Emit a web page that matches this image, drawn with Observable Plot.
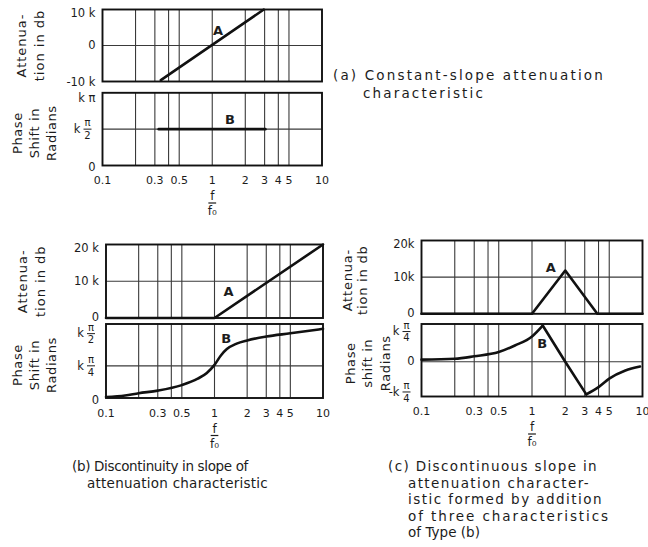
<!DOCTYPE html>
<html><head><meta charset="utf-8">
<script src="https://cdn.jsdelivr.net/npm/d3@7"></script>
<script src="https://cdn.jsdelivr.net/npm/@observablehq/plot@0.6"></script>
<style>
body{margin:0;background:#fff;}
#root{position:relative;width:648px;height:547px;overflow:hidden;font-family:"DejaVu Sans",sans-serif;color:#1c1c1c;background:#fff;}
.p{position:absolute;}
.p svg{background:transparent !important;overflow:visible !important;}
.cap{position:absolute;font-size:13.5px;line-height:16px;white-space:pre;}
</style></head><body><div id="root"></div>
<script>
// ---------- data ----------
const gridX = [0.2, 0.3, 0.4, 0.5, 1, 2, 3, 4, 5];
const xTickValues = [0.1, 0.3, 0.5, 1, 2, 3, 4, 5, 10];
const xTickLabels = ["0.1", "0.3", "0.5", "1", "2", "3", "4", "5", "10"];

// (a) constant slope
const aAttenF = [0.34, 2.95];
const aAttenK = [-9.6, 10];            // attenuation, units of k db
const aAttenTicks = [-10, 0, 10];
const aAttenTickLabels = ["-10 k", "0", "10 k"];
const aPhaseF = [0.325, 3.05];
const aPhase = [1, 1];                 // units of k·π/2
const aPhaseTicks = [0, 1, 2];
const aPhaseTickLabels = ["0", "k π/2", "k π"];

// (b) discontinuity in slope
const bAttenF = [0.1, 1, 10];
const bAttenK = [0, 0, 20];
const bAttenTicks = [0, 10, 20];
const bAttenTickLabels = ["0", "10 k", "20 k"];
const bPhaseF = [0.1, 0.15, 0.2, 0.3, 0.5, 0.7, 0.85, 1, 1.15, 1.3, 1.6, 2, 3, 5, 10];
const bPhase = [0.03, 0.08, 0.15, 0.23, 0.4, 0.6, 0.78, 1.03, 1.33, 1.52, 1.69, 1.79, 1.91, 2.01, 2.15]; // units of k·π/4
const bPhaseTicks = [0, 1, 2];
const bPhaseTickLabels = ["0", "k π/4", "k π/2"];

// (c) sum of three type-(b) characteristics
const cAttenF = [0.1, 1, 2, 3.9, 10];
const cAttenK = [0, 0, 11.8, 0, 0];
const cAttenTicks = [0, 10, 20];
const cAttenTickLabels = ["0", "10k", "20k"];
const cPhaseF = [0.1, 0.2, 0.3, 0.5, 0.7, 1, 1.25, 2, 3.1, 4, 5, 7, 9.5];
const cPhase = [0.07, 0.1, 0.18, 0.32, 0.54, 0.84, 1.2, 0, -1.08, -0.84, -0.56, -0.29, -0.16]; // units of k·π/4
const cPhaseTicks = [-1, 0, 1];
const cPhaseTickLabels = ["-k π/4", "0", "k π/4"];

// curve labels (A / B) positions in data space
const labelsA = {a: [1.13, 4], b: [1.35, 7], c: [1.48, 12]};
const labelsB = {a: [1.45, 1], b: [1.28, 1.83], c: [1.24, 0.61]};

// ---------- drawing ----------
const ink = "#1c1c1c", gridC = "#3a3a3a";
const FONT = "DejaVu Sans, sans-serif";
const root = document.getElementById("root");
const zip = (xs, ys) => xs.map((x, i) => ({x, y: ys[i]}));

function fracParts(label) {
  const m = label.match(/^(.*?)\s*(\S+)\/(\S+)$/);
  return m ? {pre: m[1], num: m[2], den: m[3]} : null;
}
// x value lying `px` pixels from the left frame edge on a log scale with `ppd` px per decade
const xAtPx = (px, ppd) => 0.1 * Math.pow(10, px / ppd);

function yTickMarks(vals, labels, domain, botDy, ppd, topDy) {
  const marks = [];
  const top = Math.max(...domain), bot = Math.min(...domain);
  vals.forEach((v, i) => {
    const lab = labels[i], f = fracParts(lab);
    const dy = v >= top ? topDy : (v <= bot ? botDy : 0);
    if (f) {
      marks.push(Plot.text([v], {y: d => d, text: [f.num], frameAnchor: "left", lineAnchor: "middle", textAnchor: "middle", dx: -15, dy: dy - 6, fontSize: 10, fill: ink}));
      marks.push(Plot.text([v], {y: d => d, text: [f.den], frameAnchor: "left", lineAnchor: "middle", textAnchor: "middle", dx: -15, dy: dy + 6.5, fontSize: 10, fill: ink}));
      marks.push(Plot.link([v], {x1: () => xAtPx(-19, ppd), x2: () => xAtPx(-11, ppd), y1: d => d, y2: d => d, dy, stroke: ink, strokeWidth: 1}));
      marks.push(Plot.text([v], {y: d => d, text: [f.pre], frameAnchor: "left", lineAnchor: "middle", textAnchor: "end", dx: -22, dy, fontSize: 11.5, fill: ink}));
    } else {
      marks.push(Plot.text([v], {y: d => d, text: [lab], frameAnchor: "left", lineAnchor: "middle", textAnchor: "end", dx: -7, dy, fontSize: 11.5, fill: ink}));
    }
  });
  return marks;
}
function xAxisMarks(yMin) {
  return [
    Plot.text(xTickValues, {x: d => d, text: xTickLabels, frameAnchor: "bottom", lineAnchor: "middle", dy: 15, fontSize: 11, fill: ink}),
    Plot.text([1], {x: d => d, text: ["f"], frameAnchor: "bottom", lineAnchor: "middle", dy: 31, fontSize: 12, fill: ink}),
    Plot.link([1], {x1: d => d / 1.085, x2: d => d * 1.085, y1: () => yMin, y2: () => yMin, dy: 37.5, stroke: ink, strokeWidth: 1.2}),
    Plot.text([1], {x: d => d, text: ["f₀"], frameAnchor: "bottom", lineAnchor: "middle", dy: 46, fontSize: 12, fill: ink})
  ];
}
function panel(o) {
  const div = document.createElement("div");
  div.className = "p";
  div.style.left = o.left + "px"; div.style.top = o.top + "px";
  div.style.width = o.width + "px"; div.style.height = o.height + "px";
  const ppd = (o.width - o.ml - o.mr) / 2;
  const yMin = Math.min(...o.yDomain);
  const marks = [
    Plot.ruleX(gridX, {stroke: gridC, strokeWidth: 1.1}),
    Plot.ruleY(o.hGrid, {stroke: gridC, strokeWidth: 1.1}),
    Plot.frame({stroke: "#111", strokeWidth: 1.9}),
    ...o.marks,
    ...yTickMarks(o.ticks, o.tickLabels, o.yDomain, o.botDy ?? 2, ppd, o.topDy ?? 4),
    Plot.text([o.title], {frameAnchor: "left", lineAnchor: "middle", textAnchor: "middle", rotate: -90, dx: o.titleDx, dy: o.titleDy || 0, lineHeight: o.titleLH, fontSize: 13, fill: ink}),
    ...(o.xAxis ? xAxisMarks(yMin) : [])
  ];
  const svg = Plot.plot({
    width: o.width, height: o.height,
    marginLeft: o.ml, marginRight: o.mr, marginTop: o.mt, marginBottom: o.mb,
    x: {type: "log", domain: [0.1, 10], axis: null},
    y: {domain: o.yDomain, axis: null},
    style: {fontFamily: FONT, background: "transparent", color: ink, overflow: "visible"},
    marks
  });
  svg.querySelectorAll('text[transform*="rotate"]').forEach(t => t.style.letterSpacing = (o.titleLS ?? 0.6) + "px");
  div.appendChild(svg);
  root.appendChild(div);
}
const lineStyle = {x: "x", y: "y", stroke: "#111", strokeWidth: 2.6};
const lbl = (p, t, dy = 0) => Plot.text([p], {x: d => d[0], y: d => d[1], text: [t], dy, fontSize: 13, fontWeight: "bold", fill: ink});

// (a) top
panel({left: 0, top: 0, width: 330, height: 88, ml: 102, mr: 8.5, mt: 9, mb: 7, botDy: 1,
  yDomain: [-10, 10], hGrid: [0], ticks: aAttenTicks, tickLabels: aAttenTickLabels,
  title: "Attenua-\ntion in db", titleDx: -73.5, titleLH: 1.45, titleLS: 1,
  marks: [Plot.line(zip(aAttenF, aAttenK), lineStyle), lbl(labelsA.a, "A")]});
// (a) bottom
panel({left: 0, top: 88, width: 330, height: 132, ml: 102, mr: 8.5, mt: 4.3, mb: 55, topDy: 5.5,
  yDomain: [0, 2], hGrid: [1], ticks: aPhaseTicks, tickLabels: aPhaseTickLabels,
  title: "Phase\nShift in\nRadians", titleDx: -69, titleDy: 4, titleLH: 1.3, xAxis: true,
  marks: [Plot.line(zip(aPhaseF, aPhase), lineStyle), lbl(labelsB.a, "B", -9)]});
// (b) top
panel({left: 0, top: 236, width: 330, height: 84, ml: 105.5, mr: 7.5, mt: 8, mb: 2.5, botDy: -1,
  yDomain: [0, 20], hGrid: [10], ticks: bAttenTicks, tickLabels: bAttenTickLabels,
  title: "Attenua-\ntion in db", titleDx: -75.5, titleLH: 1.4, titleLS: 1,
  marks: [Plot.line(zip(bAttenF, bAttenK), lineStyle), lbl(labelsA.b, "A")]});
// (b) bottom
panel({left: 0, top: 320, width: 330, height: 140, ml: 105.5, mr: 7.5, mt: 3.5, mb: 62.5,
  yDomain: [0, 2.3], hGrid: [1], ticks: bPhaseTicks, tickLabels: bPhaseTickLabels,
  title: "Phase\nShift in\nRadians", titleDx: -72.5, titleDy: 4, titleLH: 1.3, xAxis: true,
  marks: [Plot.line(zip(bPhaseF, bPhase), {...lineStyle, curve: "monotone-x"}), lbl(labelsB.b, "B")]});
// (c) top
panel({left: 330, top: 232, width: 318, height: 86, ml: 91, mr: 6, mt: 8, mb: 4.7, botDy: 0,
  yDomain: [0, 20], hGrid: [10], ticks: cAttenTicks, tickLabels: cAttenTickLabels,
  title: "Attenua-\ntion in db", titleDx: -67, titleDy: 3, titleLH: 1.2, titleLS: 0.8,
  marks: [Plot.line(zip(cAttenF, cAttenK), lineStyle), lbl(labelsA.c, "A", -2)]});
// (c) bottom
const cPts = zip(cPhaseF, cPhase);
const peakI = 6, troughI = 8;
panel({left: 330, top: 318, width: 318, height: 142, ml: 91, mr: 6, mt: 5.5, mb: 64,
  yDomain: [-1.15, 1.25], hGrid: [0], ticks: cPhaseTicks, tickLabels: cPhaseTickLabels,
  title: "Phase\nshift in\nRadians", titleDx: -55, titleDy: 3, titleLH: 1.35, xAxis: true,
  marks: [
    Plot.line(cPts.slice(0, peakI + 1), {...lineStyle, curve: "monotone-x"}),
    Plot.line(cPts.slice(peakI, troughI + 1), lineStyle),
    Plot.line(cPts.slice(troughI), {...lineStyle, curve: "monotone-x"}),
    lbl(labelsB.c, "B")]});

// captions
const captions = [
  {t: "(a) Constant-slope attenuation", x: 333, y: 67, w: 272},
  {t: "characteristic", x: 363, y: 85, w: 122},
  {t: "(b) Discontinuity in slope of", x: 72, y: 458, w: 176},
  {t: "attenuation characteristic", x: 87, y: 475, w: 181},
  {t: "(c) Discontinuous slope in", x: 388, y: 458, w: 210},
  {t: "attenuation character-", x: 408, y: 475, w: 182},
  {t: "istic formed by addition", x: 408, y: 491, w: 195},
  {t: "of three characteristics", x: 408, y: 508, w: 202},
  {t: "of Type (b)", x: 408, y: 524, w: 72}
];
captions.forEach(c => {
  const d = document.createElement("div");
  d.className = "cap";
  d.textContent = c.t;
  d.style.left = c.x + "px"; d.style.top = c.y + "px";
  root.appendChild(d);
  const nat = d.getBoundingClientRect().width;
  d.style.letterSpacing = ((c.w - nat) / c.t.length) + "px";
});
</script></body></html>
